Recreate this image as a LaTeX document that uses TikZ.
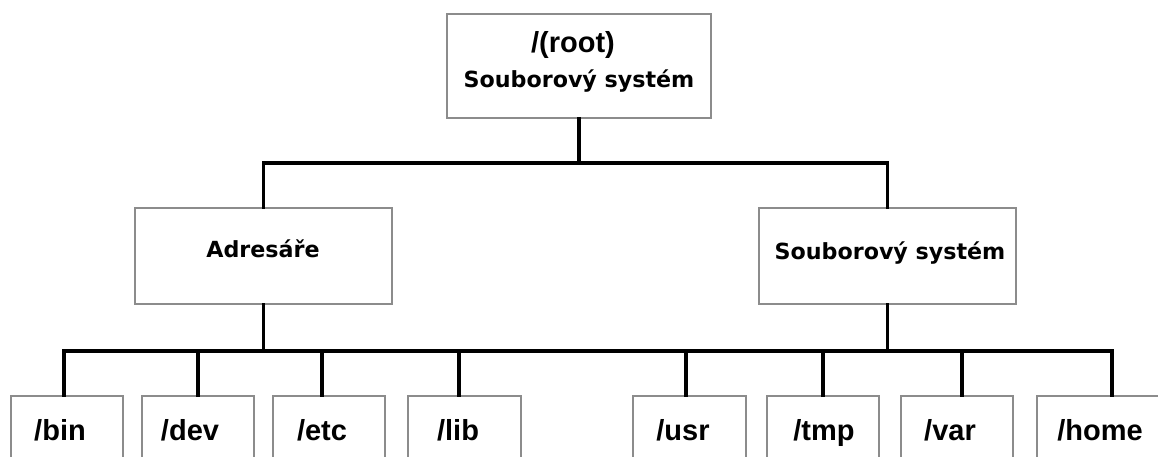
\documentclass[tikz,border=0pt]{standalone}
\usepackage{fontspec}
\setmainfont{Liberation Sans}
\newfontfamily\dejavu{DejaVu Sans}
\begin{document}
\begin{tikzpicture}[x=1pt,y=-1pt,
  box/.style={draw=black!45,line width=1.3pt,fill=white,rectangle,inner sep=0pt},
  conn/.style={draw=black,line width=3.6pt,line cap=rect},
  dirlabel/.style={anchor=base,inner sep=0pt,font=\fontsize{29}{33}\selectfont\bfseries},
  fslabel/.style={anchor=base,inner sep=0pt,font=\fontsize{22.2}{26}\selectfont\dejavu\bfseries}]
\clip (0,0) rectangle (1158,457);
\fill[white] (0,0) rectangle (1158,457);

% level 0
\node[box,minimum width=264pt,minimum height=104pt] (root) at (579,66) {};
\node[dirlabel] (rootname) at (573,53) {/(root)};
\node[fslabel] (rootfs) at (579,88) {Souborový systém};

% level 1
\node[box,minimum width=257pt,minimum height=96pt] (dirs) at (263.5,256) {};
\node[fslabel] (dirslabel) at (263,257) {Adresáře};
\node[box,minimum width=257pt,minimum height=96pt] (fs) at (887.5,256) {};
\node[fslabel] (fslab) at (890,259) {Souborový systém};

% level 2 (boxes run past the lower edge)
\foreach \n/\l/\r/\t/\tx in {
  bin/11/123/{/bin}/60,
  dev/142/254/{/dev}/190,
  etc/273/385/{/etc}/322,
  lib/408/521/{/lib}/458,
  usr/633/746/{/usr}/683,
  tmp/767/879/{/tmp}/824,
  var/901/1013/{/var}/950,
  home/1037/1180/{/home}/1100}{
  \node[box,minimum width={\r-\l},minimum height=90pt] (\n) at ({(\l+\r)/2},441) {};
  \node[dirlabel] (\n-label) at (\tx,440) {\t};
}

% connector points on the buses
\coordinate (topbus) at (0,163);
\coordinate (botbus) at (0,351);
\foreach \n/\x in {bin/64,dev/198,etc/322,lib/459,usr/686,tmp/823,var/962,home/1112}
  \coordinate (\n-drop) at (\x,351);

% connectors
\draw[conn] (root.south) -- (root.south |- topbus);
\draw[conn] (dirs.north) |- (fs.north |- topbus) -- (fs.north);
\draw[conn] (dirs.south) -- (dirs.south |- botbus);
\draw[conn] (fs.south) -- (fs.south |- botbus);
\draw[conn] (bin-drop) -- (home-drop);
\foreach \n in {bin,dev,etc,lib,usr,tmp,var,home}
  \draw[conn] (\n-drop) -- (\n-drop |- \n.north);
\end{tikzpicture}
\end{document}
